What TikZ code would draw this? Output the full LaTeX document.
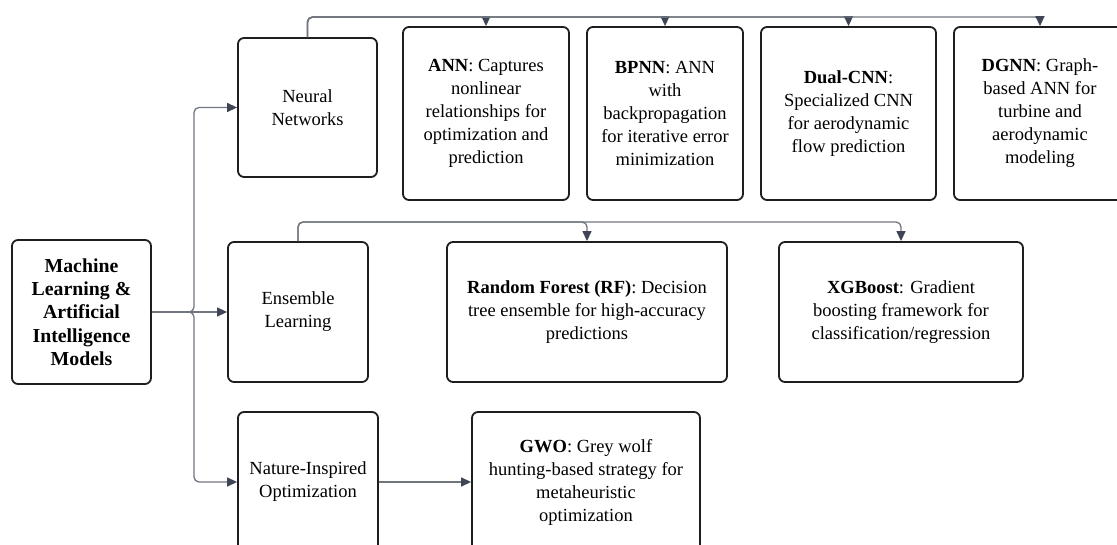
\documentclass[tikz,border=0pt]{standalone}
\usepackage{fontspec}
\setmainfont{Liberation Serif}
\usetikzlibrary{arrows.meta}
\definecolor{connc}{HTML}{70757E}
\definecolor{tipc}{HTML}{3F4554}
\definecolor{edgec}{HTML}{1E1E1E}
\begin{document}
\begin{tikzpicture}[x=1pt,y=-1pt,
  box/.style={draw=edgec, line width=1.8pt, rounded corners=6pt, align=center, inner sep=0pt,
    font=\fontsize{18.5}{23}\selectfont},
  conn/.style={draw=connc, line width=1.3pt, rounded corners=5pt,
    -{Triangle[length=10pt,width=9pt,color=tipc,fill=tipc]}}]
\useasboundingbox (0,0) rectangle (1117,545);
% left column
\node[box, minimum width=139pt, minimum height=144pt, font=\fontsize{19.8}{23.3}\selectfont\bfseries] (root) at (81.5,312)
  {Machine\\Learning \&\\Artificial\\Intelligence\\Models};
\node[box, minimum width=139pt, minimum height=139pt] (nn) at (307.5,107.5) {Neural\\Networks};
\node[box, minimum width=140pt, minimum height=140pt] (ens) at (298,312) {Ensemble\\Learning};
\node[box, minimum width=140pt, minimum height=140pt] (nat) at (308,482) {Nature-Inspired\\Optimization};
% top row
\node[box, minimum width=166pt, minimum height=173pt] (ann) at (486,113.5)
  {\textbf{ANN}: Captures\\nonlinear\\relationships for\\optimization and\\prediction};
\node[box, minimum width=156pt, minimum height=173pt] (bpnn) at (665,113.5)
  {\textbf{BPNN}: ANN\\with\\backpropagation\\for iterative error\\minimization};
\node[box, minimum width=175pt, minimum height=173pt] (dual) at (848.5,113.5)
  {\textbf{Dual-CNN}:\\Specialized CNN\\for aerodynamic\\flow prediction};
\node[box, minimum width=172pt, minimum height=173pt] (dgnn) at (1040,113.5)
  {\textbf{DGNN}: Graph-\\based ANN for\\turbine and\\aerodynamic\\modeling};
% middle row
\node[box, minimum width=280pt, minimum height=140pt] (rf) at (587,312)
  {\textbf{Random Forest (RF)}: Decision\\tree ensemble for high-accuracy\\predictions};
\node[box, minimum width=244pt, minimum height=140pt] (xgb) at (901,312)
  {\textbf{XGBoost}: Gradient\\boosting framework for\\classification/regression};
% bottom row
\node[box, minimum width=228pt, minimum height=140pt] (gwo) at (586,482)
  {\textbf{GWO}: Grey wolf\\hunting-based strategy for\\metaheuristic\\optimization};
% connectors
\coordinate (trunk) at (194,312);
\coordinate (topbus) at (0,17);
\coordinate (ensbus) at (0,222);
\draw[conn] (root.east) -- (ens.west);
\draw[conn] (root.east) -- (trunk) |- (nn.west);
\draw[conn] (root.east) -- (trunk) |- (nat.west);
\foreach \t in {ann,bpnn,dual,dgnn}
  \draw[conn] (nn.north) -- (nn.north |- topbus) -| (\t.north);
\foreach \t in {rf,xgb}
  \draw[conn] (ens.north) -- (ens.north |- ensbus) -| (\t.north);
\draw[conn] (nat.east) -- (gwo.west);
\end{tikzpicture}
\end{document}
